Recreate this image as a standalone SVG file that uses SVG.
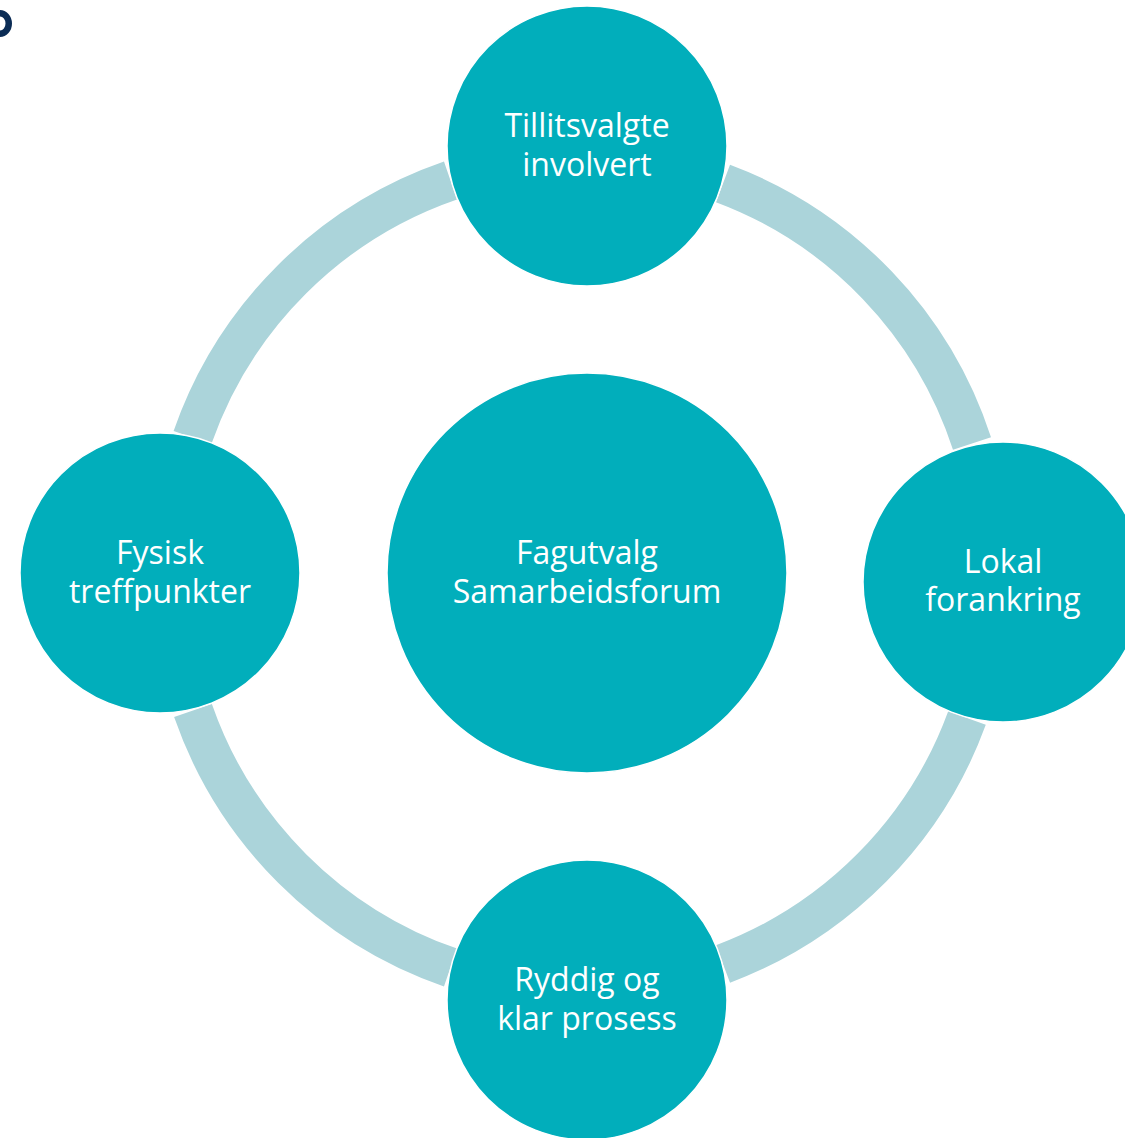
<svg xmlns="http://www.w3.org/2000/svg" width="1125" height="1138" viewBox="0 0 1125 1138">
  <style>
    .arc { fill: none; stroke: #ABD4DA; stroke-width: 40; stroke-linecap: butt; }
    .node { fill: #01AEBB; stroke: #FFFFFF; stroke-width: 1.5; }
    .label { fill: #FFFFFF; font-family: "Open Sans", "Noto Sans", "Liberation Sans", sans-serif; font-size: 32px; text-anchor: middle; }
  </style>
  <rect x="0" y="0" width="1125" height="1138" fill="#FFFFFF"/>
  <path d="M0 10 A12 13.5 0 0 1 0 37 Z M0 16.5 A5.5 7 0 0 1 0 30.5 Z" fill="#0B2C55" fill-rule="evenodd"/>
  <g id="connectors">
    <path class="arc" d="M450.5 180.5 A417 417 0 0 0 192.5 437.5"/>
    <path class="arc" d="M193 710.5 A417 417 0 0 0 450.5 967.5"/>
    <path class="arc" d="M723 964 A415 415 0 0 0 967 718"/>
    <path class="arc" d="M972 443.5 A415 415 0 0 0 723 183.5"/>
  </g>
  <g id="node-top">
    <circle class="node" cx="587" cy="146" r="140"/>
    <text class="label" x="587" y="137">Tillitsvalgte</text>
    <text class="label" x="587" y="175.5">involvert</text>
  </g>
  <g id="node-left">
    <circle class="node" cx="160" cy="573" r="140"/>
    <text class="label" x="160" y="564">Fysisk</text>
    <text class="label" x="160" y="602.5">treffpunkter</text>
  </g>
  <g id="node-center">
    <circle class="node" cx="587" cy="573" r="200"/>
    <text class="label" x="587" y="564">Fagutvalg</text>
    <text class="label" x="587" y="602.5">Samarbeidsforum</text>
  </g>
  <g id="node-right">
    <circle class="node" cx="1003" cy="582" r="140"/>
    <text class="label" x="1003" y="572.5">Lokal</text>
    <text class="label" x="1003" y="611">forankring</text>
  </g>
  <g id="node-bottom">
    <circle class="node" cx="587" cy="1000" r="140"/>
    <text class="label" x="587" y="991">Ryddig og</text>
    <text class="label" x="587" y="1029.5">klar prosess</text>
  </g>
</svg>
